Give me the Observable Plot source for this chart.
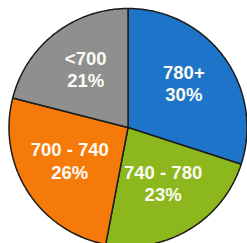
<!DOCTYPE html>
<html><head><meta charset="utf-8">
<script src="https://cdn.jsdelivr.net/npm/d3@7"></script>
<script src="https://cdn.jsdelivr.net/npm/@observablehq/plot@0.6"></script>
<style>body{margin:0;background:#fff;} svg{display:block}</style>
</head><body><div id="chart"></div>
<script>
const categories = ["780+", "740 - 780", "700 - 740", "<700"];
const shares = [30, 23, 26, 21];
const percentLabels = ["30%", "23%", "26%", "21%"];
const colors = ["#1e74c8", "#8cb81e", "#f57a0a", "#8f8f8f"];

const rows = categories.map((c, i) => ({category: c, share: shares[i], pct: percentLabels[i]}));
const arcs = d3.pie().sort(null).value(d => d.share)(rows);

const outline = [];
arcs.forEach(a => {
  const c = a.data.category;
  outline.push({category: c, x: 0, y: 0});
  const n = Math.max(2, Math.ceil((a.endAngle - a.startAngle) / 0.01));
  for (let k = 0; k <= n; k++) {
    const t = a.startAngle + (a.endAngle - a.startAngle) * k / n;
    outline.push({category: c, x: Math.sin(t), y: Math.cos(t)});
  }
});

const labelR = 0.58;
const labelData = arcs.map(a => {
  const m = (a.startAngle + a.endAngle) / 2;
  return {text: a.data.category + "\n" + a.data.pct, x: labelR * Math.sin(m), y: labelR * Math.cos(m)};
});

const R = 119, cx = 127.5, cy = 127;
const chart = Plot.plot({
  width: 247,
  height: 243,
  margin: 0,
  x: {domain: [-1, 1], range: [cx - R, cx + R], axis: null},
  y: {domain: [-1, 1], range: [cy + R, cy - R], axis: null},
  color: {domain: categories, range: colors},
  style: {background: "#fff", overflow: "hidden"},
  marks: [
    Plot.line(outline, {x: "x", y: "y", z: "category", fill: "category", stroke: "#1c1c1c", strokeWidth: 1.5, curve: "linear-closed", strokeLinejoin: "round"}),
    Plot.text(labelData, {x: "x", y: "y", dy: -4, text: "text", fill: "#fbfbf4", fontSize: 18.5, fontWeight: "bold", lineHeight: 1.22, lineAnchor: "middle", fontFamily: "Liberation Sans, Arial, Helvetica, sans-serif"})
  ]
});
document.getElementById("chart").appendChild(chart);
</script>
</body></html>
